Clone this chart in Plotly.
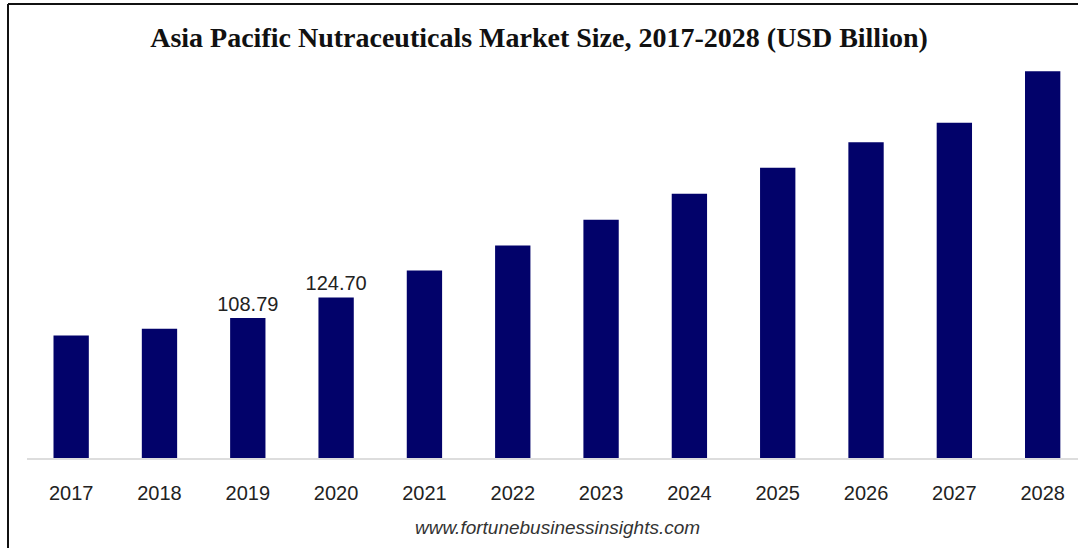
import plotly.graph_objects as go

years = ["2017", "2018", "2019", "2020", "2021", "2022", "2023", "2024", "2025", "2026", "2027", "2028"]
market_size = [95.2, 100.4, 108.79, 124.70, 145.7, 165.1, 185.0, 205.2, 225.4, 245.2, 260.3, 300.3]
labelled_years = ["2019", "2020"]

title_text = "Asia Pacific Nutraceuticals Market Size, 2017-2028 (USD Billion)"
source_text = "www.fortunebusinessinsights.com"

bar_labels = [f"{v:.2f}" if y in labelled_years else "" for y, v in zip(years, market_size)]

W, H = 1078, 548
ML, MR, MT, MB = 27, 0, 46, 90

fig = go.Figure(
    go.Bar(
        x=years,
        y=market_size,
        width=0.4,
        marker=dict(color="#02026a", line=dict(width=0)),
        text=bar_labels,
        textposition="outside",
        constraintext="none",
        textfont=dict(family="Liberation Sans, Arial, sans-serif", size=20, color="#222222"),
        cliponaxis=False,
        hoverinfo="x+y",
    )
)

pw = W - ML - MR
ph = H - MT - MB

def px_x(x):
    return (x - ML) / pw

def px_y(y):
    return (H - MB - y) / ph

fig.update_layout(
    width=W,
    height=H,
    margin=dict(l=ML, r=MR, t=MT, b=MB, pad=0),
    paper_bgcolor="white",
    plot_bgcolor="white",
    showlegend=False,
    title=dict(
        text=f"<b>{title_text}</b>",
        font=dict(family="Liberation Serif, Times New Roman, serif", size=28, color="#111111"),
        x=0.5,
        xanchor="center",
        y=1 - 37 / H,
        yanchor="middle",
    ),
    xaxis=dict(
        type="category",
        range=[-0.5, 11.4],
        showgrid=False,
        showline=True,
        linecolor="#dddddd",
        linewidth=2,
        ticks="",
        ticklabelstandoff=16,
        tickfont=dict(family="Liberation Sans, Arial, sans-serif", size=20, color="#222222"),
        fixedrange=True,
    ),
    yaxis=dict(
        range=[0, 320],
        visible=False,
        showgrid=False,
        zeroline=False,
        fixedrange=True,
    ),
    annotations=[
        dict(
            text=f"<i>{source_text}</i>",
            xref="paper",
            yref="paper",
            x=px_x(557),
            y=px_y(527),
            xanchor="center",
            yanchor="middle",
            showarrow=False,
            font=dict(family="Liberation Sans, Arial, sans-serif", size=19, color="#333333"),
        )
    ],
    shapes=[
        dict(type="line", xref="paper", yref="paper",
             x0=px_x(8), x1=px_x(W + 5), y0=px_y(4), y1=px_y(4),
             line=dict(color="#111111", width=2)),
        dict(type="line", xref="paper", yref="paper",
             x0=px_x(8), x1=px_x(8), y0=px_y(4), y1=px_y(H + 5),
             line=dict(color="#111111", width=2)),
    ],
)

fig.write_html(
    "out.html",
    config={"displayModeBar": False},
    post_script="document.body.style.margin='0';",
)
